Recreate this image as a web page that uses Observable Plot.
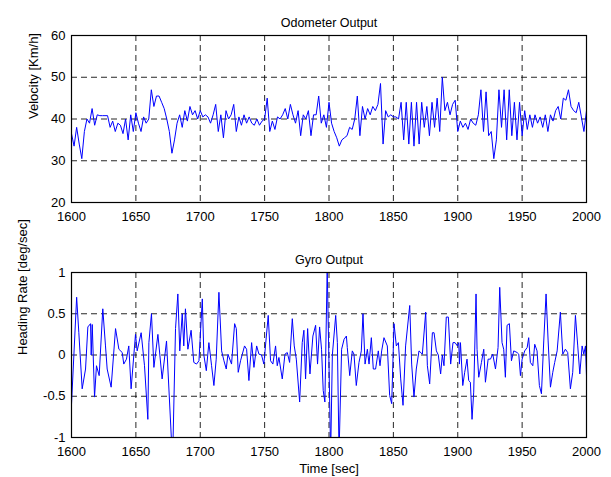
<!DOCTYPE html>
<html><head><meta charset="utf-8">
<script src="https://cdn.jsdelivr.net/npm/d3@7"></script>
<script src="https://cdn.jsdelivr.net/npm/@observablehq/plot@0.6"></script>
<style>
body{margin:0;background:#fff;}
#wrap{width:611px;height:477px;position:relative;background:#fff;}
#wrap svg{display:block;}
</style></head><body><div id="wrap"></div>
<script>
// ---- data ----
const odoStart = 1600, odoStep = 2;
const odoVelocity = [
36.5,33.5,38,34,30.5,37,40,39,42.5,38.5,
41,40.8,40.8,40.8,40.8,38,39.5,37,39,38.5,
36.5,40,35,41,37,41.5,39,37,40.5,39,
40,47,43,45.5,45.5,44,42.5,40,37,31.8,
35,39,41,38,42,39.5,43,41,42,40,
42,40.5,41,40.5,39,41,43.5,37,41,35.5,
42,40,41,43.5,37,40.5,38.5,41,39,40.5,
39,38.5,40,38.5,39.5,40,45,37,39.5,37.5,
40.5,40,41,42.5,40,43.5,41,39,42,36,
41,40,42,36,41,41,45.5,39,41,38,
44,39,37,35.5,33.5,35,35.5,36,38,37.5,
40,45.5,36,43,40,42.5,41,43,42,43.5,
48.5,34,42,40.5,41,40.5,40.5,40,44,35,
44,34,44,33.5,44,34,44,38,43,36,
44,38,45,37,50,42,44,41,43.5,44.5,
37,39.5,38,39,37.5,40,39,38.5,41,47,
37,46.5,36,37,30.5,35,47,38,47,35,
47,36,44,35,44,36,42,37.5,41,38,
41,39,40.5,38,41,37,41,39.5,42,43,
40,45,44.5,47,43,42,41.5,44,40.5,37,
42
];
const gyroTime = [
1600,1604,1605.7,1608.3,1610.9,1612.7,1614.8,1615.3,1616.1,1617.9,
1619.4,1621.5,1624.3,1626.4,1627.7,1630.8,1634.2,1636.8,1639.4,1640.6,
1642.7,1644.5,1646.3,1649.7,1651,1654.1,1656.7,1659.3,1660.1,1662.1,
1664,1667.1,1670.4,1673.8,1678.5,1680.8,1682.6,1684.1,1686,1687.2,
1688.5,1690.4,1692.9,1695,1697.1,1699,1701.6,1702.8,1704.7,1706.7,
1708.8,1710.6,1712.4,1714.5,1716.6,1718.4,1720.2,1721.5,1724.3,1726.7,
1728,1729.5,1731.3,1734.4,1736,1737.8,1739.9,1741.7,1743.8,1745.6,
1747.6,1749.4,1752.8,1754.6,1756.4,1758.5,1759.8,1761.1,1763.7,1765.8,
1767.6,1769.4,1771.5,1773,1774.6,1777.2,1779.2,1780.5,1781.8,1783.4,
1785.2,1787.5,1789.6,1791.1,1792.7,1794.2,1795.5,1796.8,1798.6,1801.3,
1802.6,1805.2,1806.5,1807.8,1809.8,1811.7,1813.5,1814.2,1816.1,1818.1,
1819.4,1821.2,1823.3,1825.1,1826.4,1828,1829.8,1831.1,1832.9,1834.4,
1836.2,1838.3,1839.6,1840.9,1842.7,1845.3,1847.1,1848.7,1850.5,1852.3,
1853.9,1855.7,1857.5,1859.5,1862.7,1864.2,1866,1867.8,1869.9,1872.5,
1875.1,1876.4,1878.2,1880.3,1881.6,1883.4,1884.9,1886.7,1888,1889.3,
1891.1,1892.7,1894.5,1896.3,1897.9,1899.7,1900.8,1901.3,1902.1,1903.9,
1905.4,1907.2,1908.5,1909.8,1911.1,1912.4,1914.2,1915,1916.3,1918.4,
1920.2,1921.5,1923.6,1925.4,1927.2,1929.3,1931.3,1932.6,1934.4,1935.7,
1937,1938.3,1940.1,1941.7,1943.5,1946.1,1947.4,1948.7,1950,1952,
1953.9,1955.1,1956.4,1958.3,1959.8,1961.6,1963.4,1965,1966.8,1968.6,
1970.2,1972,1973.8,1975.3,1977.2,1979.7,1981.6,1983.6,1985.4,1987.5,
1989.3,1991.4,1993.2,1994.8,1996.6,1997.9,1999.2,2000
];
const gyroRate = [
-0.6,0.70,0.27,-0.41,-0.17,0.34,0.38,0,0.37,-0.51,
-0.13,-0.25,0.56,0.11,-0.17,-0.39,0.32,0.07,0.03,-0.11,
-0.05,0.11,-0.41,0.25,0.05,0.27,-0.13,-0.78,0.15,0.5,
-0.15,0.25,-0.29,0.17,-1.3,0.32,0.74,0.05,0.5,0.11,
0.56,0.07,0.3,-0.09,-0.11,-0.07,0.68,0,-0.19,0.15,
-0.13,-0.37,-0.05,0.76,0.05,-0.07,-0.17,0.01,-0.11,0.38,
0.32,-0.21,-0.07,0.11,0.07,-0.31,0.15,-0.15,0.11,0.01,
0,-0.11,0.48,-0.07,-0.11,0.11,-0.13,-0.03,-0.29,0.01,
0.03,-0.09,0.44,0.11,-0.05,-0.57,0.15,0.3,-0.29,0.32,
-0.23,0.23,0.36,-0.11,0.34,0.07,-0.43,-0.57,1.05,-1.2,
0,0.48,0.15,-1.2,0.07,0.19,0.23,0.09,-0.25,0.05,
0.01,-0.37,-0.09,0.05,0.5,-0.11,0.07,-0.11,0.21,-0.17,
-0.17,0.05,-0.13,0.05,0.21,0.11,-0.49,-0.59,0.38,0.11,
0.15,-0.29,-0.61,0.11,0.6,-0.11,-0.51,-0.17,0.05,0.01,
0.52,-0.13,-0.35,0.27,0.27,0.05,0,-0.23,0,-0.13,
0.46,0.46,-0.11,0.15,0.15,0.11,0.15,-0.11,0.15,-0.37,
-0.21,-0.05,-0.31,-0.33,-0.78,-0.45,0.74,0.07,-0.27,-0.09,
0.07,-0.33,-0.05,-0.05,0.01,-0.17,0.09,0.82,0.15,0.07,
-0.27,0.36,0.38,-0.07,0.05,0.03,0.01,-0.25,-0.05,0.05,
0.09,0.21,-0.09,-0.13,0.13,0.05,-0.37,-0.47,0.17,0.74,
0.17,-0.39,-0.21,-0.09,0.05,0.52,0.01,0.07,0.03,-0.41,
-0.21,0.48,0.11,-0.23,0.11,0.01,0.11,-0.25
];
const timeTicks = [1600,1650,1700,1750,1800,1850,1900,1950,2000];
const velocityTicks = [20,30,40,50,60];
const rateTicks = [-1,-0.5,0,0.5,1];
const titles = ["Odometer Output","Gyro Output"];
const yLabels = ["Velocity [Km/h]","Heading Rate [deg/sec]"];
const xLabel = "Time [sec]";

// ---- build ----
const FONT = "'Liberation Sans', Arial, Helvetica, sans-serif";
const odoData = odoVelocity.map((v,i)=>({t: odoStart + i*odoStep, v}));
const gyroData = gyroTime.map((t,i)=>({t, v: gyroRate[i]}));

function panel({data, yDomain, yTicks, title, ylabel, height, marginTop, marginBottom, ylabelDx, xlabel}) {
  const gx = timeTicks.slice(1,-1), gy = yTicks.slice(1,-1);
  const grid = {stroke:"#000", strokeWidth:1, strokeDasharray:"6,4", strokeOpacity:0.85};
  const marks = [
    Plot.ruleX(gx, grid),
    Plot.ruleY(gy, grid),
    Plot.line(data, {x:"t", y:"v", stroke:"#0000ff", strokeWidth:1, clip:true}),
    Plot.frame({stroke:"#000", strokeWidth:1.2}),
    Plot.text([title], {frameAnchor:"top", dy:-17, fontSize:12.5, fill:"#000"}),
    Plot.text([ylabel], {frameAnchor:"left", dx:-ylabelDx, rotate:-90, fontSize:13, fill:"#000"})
  ];
  if (xlabel) marks.push(Plot.text([xlabel], {frameAnchor:"bottom", dy:35, fontSize:13, fill:"#000"}));
  return Plot.plot({
    width:611, height, marginLeft:71, marginRight:25, marginTop, marginBottom,
    style:{fontFamily:FONT, fontSize:"13px", color:"#000", background:"#fff", overflow:"visible"},
    x:{domain:[1600,2000], ticks:timeTicks, tickSize:0, tickPadding:9, tickFormat:d=>String(d), label:null},
    y:{domain:yDomain, ticks:yTicks, tickSize:0, tickPadding:6, tickFormat:d=>String(d), label:null},
    marks
  });
}

const wrap = document.getElementById("wrap");
wrap.appendChild(panel({data:odoData, yDomain:[20,60], yTicks:velocityTicks, title:titles[0], ylabel:yLabels[0],
  height:238, marginTop:35, marginBottom:36, ylabelDx:38}));
wrap.appendChild(panel({data:gyroData, yDomain:[-1,1], yTicks:rateTicks, title:titles[1], ylabel:yLabels[1],
  height:239, marginTop:34, marginBottom:40, ylabelDx:49, xlabel:xLabel}));
</script></body></html>
